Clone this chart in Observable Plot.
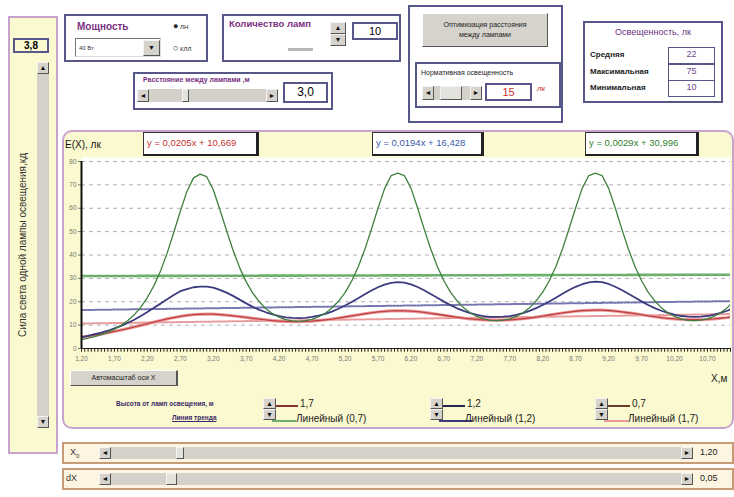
<!DOCTYPE html>
<html><head><meta charset="utf-8">
<script src="https://cdn.jsdelivr.net/npm/d3@7"></script>
<script src="https://cdn.jsdelivr.net/npm/@observablehq/plot@0.6"></script>
<style>
body{margin:0;background:#fff;font-family:"Liberation Sans",Arial,sans-serif;}
#root{position:relative;width:734px;height:497px;overflow:hidden;background:#fff;}
.a{position:absolute;box-sizing:border-box;}
.box{border:2px solid #57578a;}
.t{position:absolute;white-space:nowrap;line-height:1;}
.btn{background:#d6d3cc;border:1px solid #fff;border-right-color:#555;border-bottom-color:#555;}
.track{background:#d4d1ca;}
.arr{background:#d6d3cc;border:1px solid #f4f4f4;border-right-color:#555;border-bottom-color:#555;font-size:7px;line-height:10px;text-align:center;color:#111;}
.val{background:#fff;border:2px solid #57578a;text-align:center;}
.purple{color:#7a2f7e;font-weight:bold;}
.eq{position:absolute;box-sizing:border-box;background:#fff;border:1px solid #333;border-right:3px solid #222;border-bottom:2px solid #222;font-size:9.5px;line-height:20px;padding-left:3px;white-space:nowrap;}
</style></head>
<body><div id="root"></div>
<script>
// ---------- data ----------
const xs = [1.2,1.3,1.4,1.5,1.6,1.7,1.8,1.9,2.0,2.1,2.2,2.3,2.4,2.5,2.6,2.7,2.8,2.9,3.0,
3.1,3.2,3.3,3.4,3.5,3.6,3.7,3.8,3.9,4.0,4.1,4.2,4.3,4.4,4.5,4.6,4.7,4.8,4.9,5.0,5.1,5.2,5.3,5.4,5.5,5.6,5.7,5.8,5.9,6.0,
6.1,6.2,6.3,6.4,6.5,6.6,6.7,6.8,6.9,7.0,7.1,7.2,7.3,7.4,7.5,7.6,7.7,7.8,7.9,8.0,8.1,8.2,8.3,8.4,8.5,8.6,8.7,8.8,8.9,9.0,
9.1,9.2,9.3,9.4,9.5,9.6,9.7,9.8,9.9,10.0,10.1,10.2,10.3,10.4,10.5,10.6,10.7,10.8,10.9,11.0,11.1];
// h = 0,7 m
const seriesH07 = [3.8,4.4,5.1,5.9,7.0,8.3,9.9,11.9,14.4,17.7,21.8,26.9,33.2,40.8,49.6,58.7,67.2,73.0,74.6,
73.5,67.9,59.5,50.6,42.0,34.6,28.5,23.7,19.9,17.0,14.9,13.4,12.4,11.8,11.6,11.9,12.5,13.6,15.1,17.3,20.2,23.9,28.8,35.0,42.4,51.0,60.0,68.4,74.0,75.0,
74.0,68.6,60.2,51.2,42.6,35.1,29.0,24.1,20.4,17.4,15.3,13.7,12.7,12.0,11.9,12.1,12.7,13.7,15.3,17.4,20.4,24.1,29.0,35.1,42.6,51.2,60.2,68.6,74.0,75.0,
74.0,68.6,60.2,51.2,42.6,35.1,29.0,24.1,20.4,17.4,15.3,13.7,12.7,12.0,11.9,12.1,12.7,13.7,15.3,17.4,20.4];
// h = 1,2 m
const seriesH12 = [4.9,5.4,6.1,6.8,7.6,8.6,9.7,10.9,12.3,13.9,15.6,17.4,19.2,21.1,22.9,24.5,25.4,26.2,26.5,
26.5,26.0,25.1,23.9,22.5,20.9,19.3,17.8,16.5,15.5,14.6,13.9,13.35,13.1,13.0,13.1,13.5,14.1,14.8,15.8,17.0,18.4,19.9,21.5,23.2,24.8,26.2,27.35,28.1,28.4,
28.2,27.45,26.3,24.9,23.3,21.7,20.05,18.55,17.2,16.1,15.1,14.4,13.8,13.5,13.5,13.6,13.85,14.4,15.15,16.1,17.3,18.6,20.1,21.75,23.4,25.0,26.4,27.5,28.3,28.6,
28.4,27.6,26.4,25.0,23.4,21.8,20.15,18.6,17.3,16.15,15.2,14.5,13.9,13.6,13.55,13.65,13.9,14.45,15.2,16.15,17.35];
// h = 1,7 m
const seriesH17 = [4.84,5.25,5.69,6.18,6.72,7.29,7.9,8.54,9.21,9.91,10.62,11.32,12.0,12.65,13.24,13.74,14.16,14.46,14.66,
14.71,14.68,14.52,14.3,14.0,13.66,13.29,12.92,12.55,12.22,11.95,11.74,11.58,11.51,11.5,11.59,11.74,11.97,12.26,12.61,13.03,13.48,13.95,14.41,14.86,15.28,15.63,15.92,16.08,16.16,
16.12,15.99,15.74,15.44,15.06,14.65,14.22,13.79,13.36,12.98,12.67,12.42,12.22,12.11,12.06,12.12,12.24,12.45,12.72,13.04,13.44,13.88,14.33,14.77,15.2,15.6,15.93,16.2,16.35,16.41,
16.4,16.25,16.0,15.7,15.3,14.9,14.45,14.0,13.6,13.2,12.9,12.65,12.45,12.35,12.3,12.35,12.45,12.65,12.95,13.25,13.65];
// linear trend lines (start / end values)
const trendX = [1.2, 11.1];
const trendH07 = [31.0, 31.57];
const trendH12 = [16.45, 20.29];
const trendH17 = [10.69, 14.75];
const trendLabels = ["y = 0,0205x + 10,669", "y = 0,0194x + 16,428", "y = 0,0029x + 30,996"];
const yTicks = [0,10,20,30,40,50,60,70,80];
const xLabelValues = [1.2,1.7,2.2,2.7,3.2,3.7,4.2,4.7,5.2,5.7,6.2,6.7,7.2,7.7,8.2,8.7,9.2,9.7,10.2,10.7];
const xLabelTexts = ["1,20","1,70","2,20","2,70","3,20","3,70","4,20","4,70","5,20","5,70","6,20","6,70","7,20","7,70","8,20","8,70","9,20","9,70","10,20","10,70"];
const xStep = 0.05, xCount = 198;

// ---------- UI ----------
const root = document.getElementById("root");
function el(html){ root.insertAdjacentHTML("beforeend", html); }
function hscroll(l,t,w,h,thumbL,thumbW){
  el(`<div class="a track" style="left:${l}px;top:${t}px;width:${w}px;height:${h}px"></div>`);
  el(`<div class="a arr" style="left:${l}px;top:${t}px;width:12px;height:${h}px;line-height:${h-2}px">◄</div>`);
  el(`<div class="a arr" style="left:${l+w-12}px;top:${t}px;width:12px;height:${h}px;line-height:${h-2}px">►</div>`);
  el(`<div class="a arr" style="left:${thumbL}px;top:${t}px;width:${thumbW}px;height:${h}px;background:#e4e2dc"></div>`);
}
function spinner(l,t,w,h){
  el(`<div class="a arr" style="left:${l}px;top:${t}px;width:${w}px;height:${h/2}px;line-height:${h/2-2}px">▲</div>`);
  el(`<div class="a arr" style="left:${l}px;top:${t+h/2}px;width:${w}px;height:${h/2}px;line-height:${h/2-2}px">▼</div>`);
}

// left panel
el(`<div class="a" style="left:8px;top:16px;width:50px;height:438px;background:#fbf9cf;border:2px solid #c9a3cf"></div>`);
el(`<div class="a val" style="left:13px;top:38px;width:36px;height:15px;font-size:10px;font-weight:bold;line-height:11px;background:#fbf9cf">3,8</div>`);
el(`<div class="a track" style="left:37px;top:62px;width:12px;height:366px"></div>`);
el(`<div class="a arr" style="left:37px;top:62px;width:12px;height:12px">▲</div>`);
el(`<div class="a arr" style="left:37px;top:416px;width:12px;height:12px">▼</div>`);
el(`<div class="t" style="left:23px;top:245px;font-size:10px;color:#333;transform:translate(-50%,-50%) rotate(-90deg);">Сила света одной лампы освещения,кд</div>`);

// Мощность
el(`<div class="a box" style="left:64px;top:14px;width:144px;height:48px"></div>`);
el(`<div class="t purple" style="left:77px;top:22px;font-size:10px">Мощность</div>`);
el(`<div class="a" style="left:75px;top:38px;width:86px;height:19px;background:#fff;border:1px solid #777;border-right-color:#ddd;border-bottom-color:#ddd"></div>`);
el(`<div class="t" style="left:79px;top:45px;font-size:6px;color:#333">40 Вт</div>`);
el(`<div class="a arr" style="left:143px;top:40px;width:17px;height:16px;line-height:14px">▼</div>`);
el(`<div class="t" style="left:173px;top:22px;font-size:9px;color:#222">●<span style="font-size:6px"> ЛН</span></div>`);
el(`<div class="t" style="left:173px;top:44px;font-size:9px;color:#222">○<span style="font-size:6px"> КЛЛ</span></div>`);

// Количество ламп
el(`<div class="a box" style="left:222px;top:14px;width:179px;height:48px"></div>`);
el(`<div class="t purple" style="left:229px;top:19px;font-size:9.5px">Количество ламп</div>`);
spinner(330,22,16,24);
el(`<div class="a val" style="left:352px;top:22px;width:46px;height:18px;font-size:11px;line-height:14px">10</div>`);
el(`<div class="a" style="left:288px;top:48px;width:25px;height:3px;background:#b8b8b8"></div>`);

// Расстояние между лампами
el(`<div class="a box" style="left:133px;top:72px;width:200px;height:38px"></div>`);
el(`<div class="t purple" style="left:143px;top:76px;font-size:7px">Расстояние между лампами ,м</div>`);
hscroll(137,89,141,13,182,7);
el(`<div class="a val" style="left:283px;top:82px;width:45px;height:21px;font-size:12px;line-height:17px">3,0</div>`);

// Оптимизация / нормативная
el(`<div class="a box" style="left:408px;top:5px;width:155px;height:118px"></div>`);
el(`<div class="a btn" style="left:422px;top:13px;width:126px;height:34px;font-size:7px;line-height:10px;text-align:center;padding-top:6px;color:#222">Оптимизация расстояния<br>между лампами</div>`);
el(`<div class="a box" style="left:415px;top:62px;width:146px;height:46px"></div>`);
el(`<div class="t" style="left:421px;top:69px;font-size:7px;color:#222">Нормативная освещенность</div>`);
hscroll(422,86,60,14,440,22);
el(`<div class="a val" style="left:485px;top:83px;width:47px;height:18px;font-size:11px;line-height:14px;color:#d03030">15</div>`);
el(`<div class="t" style="left:537px;top:85px;font-size:8px;color:#d03030;font-style:italic">лк</div>`);

// Освещенность
el(`<div class="a box" style="left:583px;top:21px;width:140px;height:82px"></div>`);
el(`<div class="t" style="left:653px;top:28px;font-size:9px;color:#6a2f7e;transform:translateX(-50%)">Освещенность, лк</div>`);
const illumNames = ["Средняя","Максимальная","Минимальная"];
const illumValues = ["22","75","10"];
illumNames.forEach((n,i)=>{
  const top = 47 + i*16.5;
  el(`<div class="t" style="left:590px;top:${top+4}px;font-size:8px;font-weight:bold;color:#222">${n}</div>`);
  el(`<div class="a val" style="left:668px;top:${top}px;width:47px;height:17px;font-size:9px;line-height:13px;color:#6a4a8a;border-width:1.5px">${illumValues[i]}</div>`);
});

// chart panel
el(`<div class="a" style="left:62px;top:130px;width:672px;height:299px;background:#fbf9cf;border:2px solid #c9a3cf;border-radius:10px"></div>`);

// ---------- chart ----------
const rows = xs.map((x,i)=>({x, g: seriesH07[i], b: seriesH12[i], r: seriesH17[i]}));
const trendRows = trendX.map((x,i)=>({x, g: trendH07[i], b: trendH12[i], r: trendH17[i]}));
const minorTicks = d3.range(xCount).map(i => +(1.2 + i*xStep).toFixed(2));
const labelMap = new Map(xLabelValues.map((v,i)=>[v, xLabelTexts[i]]));

const chart = Plot.plot({
  width: 672, height: 246,
  marginLeft: 19, marginRight: 4, marginTop: 27, marginBottom: 28,
  style: {background: "transparent", fontFamily: "Liberation Sans, Arial, sans-serif", overflow: "visible"},
  x: {domain: [1.2, 11.05], axis: null, label: null},
  y: {domain: [0, 80], insetTop: 4, axis: null, label: null},
  marks: [
    Plot.frame({fill: "white", stroke: null}),
    Plot.ruleY(yTicks.filter(v => v > 0), {stroke: "#b0b0b0", strokeDasharray: "4,4"}),
    Plot.axisY({ticks: yTicks, tickSize: 3, tickPadding: 2, fontSize: 6.5, color: "#777", label: null, tickFormat: d => String(d)}),
    Plot.ruleX(minorTicks, {x: d => d, y1: 0, y2: -1.6, stroke: "#222", strokeWidth: 1}),
    Plot.axisX({ticks: xLabelValues, tickSize: 0, tickPadding: 8, fontSize: 6.5, color: "#777", label: null, tickFormat: d => labelMap.get(d)}),
    Plot.line(trendRows, {x: "x", y: "g", stroke: "#6cb06c", strokeWidth: 2.6, strokeDasharray: "3,1", clip: true}),
    Plot.line(trendRows, {x: "x", y: "b", stroke: "#7575b0", strokeWidth: 2, strokeDasharray: "2,1.5", clip: true}),
    Plot.line(trendRows, {x: "x", y: "r", stroke: "#e89a9a", strokeWidth: 2, strokeDasharray: "2,1.5", clip: true}),
    Plot.line(rows, {x: "x", y: "r", stroke: "#eaa0a0", strokeWidth: 3.2, clip: true}),
    Plot.line(rows, {x: "x", y: "r", stroke: "#c24040", strokeWidth: 1.3, clip: true}),
    Plot.line(rows, {x: "x", y: "b", stroke: "#3b3b7e", strokeWidth: 1.8, clip: true}),
    Plot.line(rows, {x: "x", y: "g", stroke: "#3f803f", strokeWidth: 1.3, clip: true}),
    Plot.ruleX([1.2], {y1: 0, y2: 80, stroke: "#111", strokeWidth: 2}),
    Plot.ruleY([0], {stroke: "#222", strokeWidth: 1})
  ]
});
chart.style.position = "absolute";
chart.style.left = "62px";
chart.style.top = "130px";
root.appendChild(chart);

// chart texts
el(`<div class="t" style="left:65px;top:140px;font-size:10px;color:#111">E(X), лк</div>`);
const eqColors = ["#c83030","#3a5aa8","#2f7f2f"];
const eqLefts = [143, 372, 585];
const eqWidths = [116, 112, 114];
trendLabels.forEach((s,i)=>{
  el(`<div class="eq" style="left:${eqLefts[i]}px;top:132px;width:${eqWidths[i]}px;height:24px;color:${eqColors[i]}">${s}</div>`);
});
el(`<div class="a btn" style="left:70px;top:370px;width:108px;height:16px;font-size:7px;line-height:14px;text-align:center;color:#222;border-right-width:2px">Автомасштаб оси X</div>`);
el(`<div class="t" style="left:711px;top:374px;font-size:10px;color:#222">X,м</div>`);

// legend row
el(`<div class="t" style="left:116px;top:401px;font-size:6.5px;font-weight:bold;color:#3a2a6a">Высота от ламп освещения, м</div>`);
el(`<div class="t" style="left:172px;top:415px;font-size:6.5px;font-weight:bold;color:#3a2a6a;text-decoration:underline">Линия тренда</div>`);
const heightLabels = ["1,7","1,2","0,7"];
const heightColors = ["#8a3030","#262650","#6a3a2a"];
const trendNames = ["Линейный (0,7)","Линейный (1,2)","Линейный (1,7)"];
const trendSampleColors = ["#6cb06c","#3b3b7e","#e89a9a"];
const legendLefts = [263, 430, 595];
legendLefts.forEach((l,i)=>{
  spinner(l,398,13,22);
  el(`<div class="a" style="left:${l+13}px;top:405px;width:22px;height:1.5px;background:${heightColors[i]}"></div>`);
  el(`<div class="t" style="left:${l+37}px;top:399px;font-size:10px;color:#222">${heightLabels[i]}</div>`);
  el(`<div class="a" style="left:${l+9}px;top:420px;width:${i===1?33:24}px;height:2px;background:${trendSampleColors[i]}"></div>`);
  el(`<div class="t" style="left:${l+(i===1?35:33)}px;top:414px;font-size:10px;color:#222">${trendNames[i]}</div>`);
});

// bottom sliders
const sliderNames = ['X<sub style="font-size:6px">0</sub>', 'dX'];
const sliderValues = ["1,20", "0,05"];
const sliderThumbs = [[176,8],[166,11]];
[442, 468].forEach((t,i)=>{
  el(`<div class="a" style="left:62px;top:${t}px;width:672px;height:22px;background:#fdf5e2;border:2px solid #c79b78"></div>`);
  el(`<div class="t" style="left:${i===0?70:66}px;top:${t+6}px;font-size:9px;color:#333">${sliderNames[i]}</div>`);
  hscroll(99,t+5,594,12,sliderThumbs[i][0],sliderThumbs[i][1]);
  el(`<div class="t" style="left:700px;top:${t+6}px;font-size:9px;color:#222">${sliderValues[i]}</div>`);
});
</script>
</body></html>
